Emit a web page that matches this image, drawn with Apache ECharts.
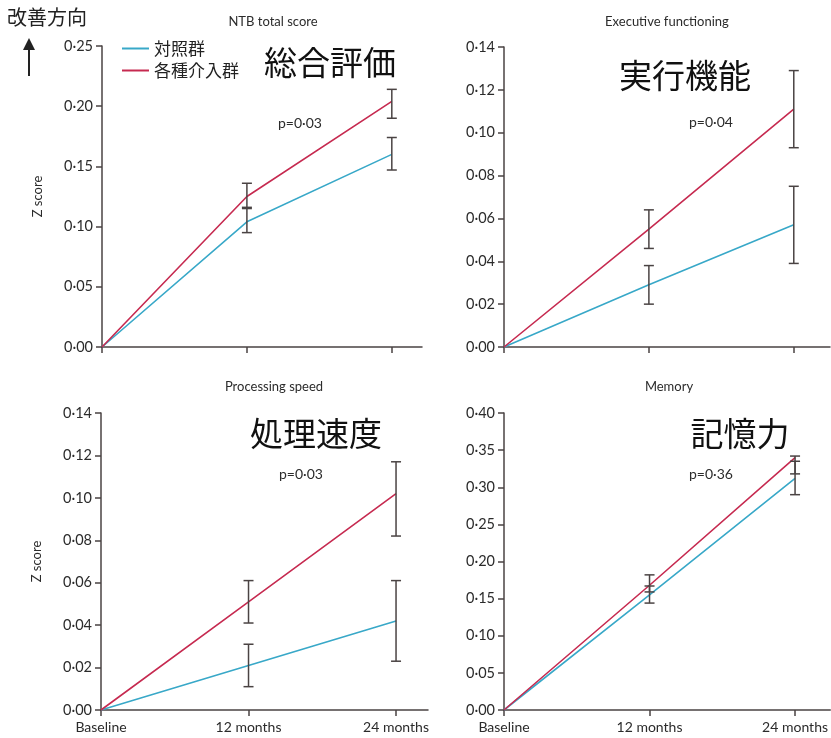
<!DOCTYPE html>
<html>
<head>
<meta charset="utf-8">
<script src="https://cdn.jsdelivr.net/npm/echarts@6/dist/echarts.min.js"></script>
<style>
  html, body { margin: 0; padding: 0; background: #fff; }
  #main { width: 831px; height: 738px; }
</style>
</head>
<body>
<div id="main"></div>
<script>
// x positions (months) and their labels
var months = [0, 12, 24];
var monthLabels = ['Baseline', '12 months', '24 months'];
var groupNames = ['対照群', '各種介入群'];
var panelTitles = ['NTB total score', 'Executive functioning', 'Processing speed', 'Memory'];
var panelLabelsJa = ['総合評価', '実行機能', '処理速度', '記憶力'];
var pValues = ['p=0·03', 'p=0·04', 'p=0·03', 'p=0·36'];

// NTB total score
var ntbControl = [0, 0.104, 0.160];
var ntbControlLow = [0.095, 0.147];
var ntbControlHigh = [0.116, 0.174];
var ntbInterv = [0, 0.125, 0.204];
var ntbIntervLow = [0.115, 0.190];
var ntbIntervHigh = [0.136, 0.214];

// Executive functioning
var execControl = [0, 0.029, 0.057];
var execControlLow = [0.020, 0.039];
var execControlHigh = [0.038, 0.075];
var execInterv = [0, 0.055, 0.111];
var execIntervLow = [0.046, 0.093];
var execIntervHigh = [0.064, 0.129];

// Processing speed
var procControl = [0, 0.021, 0.042];
var procControlLow = [0.011, 0.023];
var procControlHigh = [0.031, 0.061];
var procInterv = [0, 0.051, 0.102];
var procIntervLow = [0.041, 0.082];
var procIntervHigh = [0.061, 0.117];

// Memory
var memControl = [0, 0.155, 0.312];
var memControlLow = [0.144, 0.290];
var memControlHigh = [0.167, 0.335];
var memInterv = [0, 0.168, 0.340];
var memIntervLow = [0.159, 0.318];
var memIntervHigh = [0.182, 0.342];

var yMax = [0.25, 0.14, 0.14, 0.40];
var yStep = [0.05, 0.02, 0.02, 0.05];

var BLUE = '#38a8c8';
var RED = '#c62a50';
var AXIS = '#4a4343';
var TEXT = '#2b2b2b';
var LATIN = 'Lato, "Open Sans", sans-serif';
var CJK = '"Noto Sans CJK JP", "Noto Sans", sans-serif';

var panels = [
  { control: ntbControl, cLow: ntbControlLow, cHigh: ntbControlHigh, interv: ntbInterv, iLow: ntbIntervLow, iHigh: ntbIntervHigh },
  { control: execControl, cLow: execControlLow, cHigh: execControlHigh, interv: execInterv, iLow: execIntervLow, iHigh: execIntervHigh },
  { control: procControl, cLow: procControlLow, cHigh: procControlHigh, interv: procInterv, iLow: procIntervLow, iHigh: procIntervHigh },
  { control: memControl, cLow: memControlLow, cHigh: memControlHigh, interv: memInterv, iLow: memIntervLow, iHigh: memIntervHigh }
];

var grids = [
  { left: 102, top: 46, width: 320, height: 301 },
  { left: 504, top: 47, width: 326, height: 300 },
  { left: 101, top: 413, width: 327, height: 297 },
  { left: 504, top: 413, width: 327, height: 297 }
];
var xMax = [26.5, 27.0, 26.6, 26.9];

function fmt(v) {
  return v.toFixed(2).replace('.', '·');
}

function pairs(xs, ys) {
  return xs.map(function (x, i) { return [x, ys[i]]; });
}

function barData(low, high) {
  return months.slice(1).map(function (m, i) { return [m, low[i], high[i]]; });
}

function renderErrorBar(params, api) {
  var x = api.value(0);
  var lo = api.coord([x, api.value(1)]);
  var hi = api.coord([x, api.value(2)]);
  var w = 5;
  var st = { stroke: AXIS, lineWidth: 1.5 };
  return {
    type: 'group',
    children: [
      { type: 'line', shape: { x1: lo[0], y1: lo[1], x2: hi[0], y2: hi[1] }, style: st },
      { type: 'line', shape: { x1: lo[0] - w, y1: lo[1], x2: lo[0] + w, y2: lo[1] }, style: st },
      { type: 'line', shape: { x1: hi[0] - w, y1: hi[1], x2: hi[0] + w, y2: hi[1] }, style: st }
    ]
  };
}

var xAxes = [], yAxes = [], series = [];
panels.forEach(function (p, i) {
  xAxes.push({
    type: 'value', gridIndex: i, min: 0, max: xMax[i],
    splitLine: { show: false },
    axisLine: { lineStyle: { color: AXIS, width: 1.5 } },
    axisTick: { length: 6, lineStyle: { color: AXIS, width: 1.5 }, customValues: months },
    axisLabel: {
      show: i >= 2, // only the bottom row is labelled
      customValues: months, margin: 10, color: TEXT, fontFamily: LATIN, fontSize: 14,
      formatter: function (v) { return monthLabels[months.indexOf(v)] || ''; }
    }
  });
  yAxes.push({
    type: 'value', gridIndex: i, min: 0, max: yMax[i], interval: yStep[i],
    name: (i % 2 === 0) ? 'Z score' : '',
    nameLocation: 'middle', nameGap: 58, nameRotate: 90,
    nameTextStyle: { color: TEXT, fontFamily: LATIN, fontSize: 13 },
    splitLine: { show: false },
    axisLine: { show: true, lineStyle: { color: AXIS, width: 1.5 } },
    axisTick: { show: true, length: 6, lineStyle: { color: AXIS, width: 1.5 } },
    axisLabel: { margin: 9, color: TEXT, fontFamily: LATIN, fontSize: 14.5, formatter: fmt }
  });
  series.push({
    name: groupNames[0], type: 'line', xAxisIndex: i, yAxisIndex: i,
    data: pairs(months, p.control), symbol: 'none', color: BLUE,
    lineStyle: { width: 1.6, color: BLUE }, z: 3
  });
  series.push({
    name: groupNames[1], type: 'line', xAxisIndex: i, yAxisIndex: i,
    data: pairs(months, p.interv), symbol: 'none', color: RED,
    lineStyle: { width: 1.6, color: RED }, z: 3
  });
  series.push({
    type: 'custom', xAxisIndex: i, yAxisIndex: i, renderItem: renderErrorBar,
    data: barData(p.cLow, p.cHigh), encode: { x: 0, y: [1, 2] }, z: 4, silent: true
  });
  series.push({
    type: 'custom', xAxisIndex: i, yAxisIndex: i, renderItem: renderErrorBar,
    data: barData(p.iLow, p.iHigh), encode: { x: 0, y: [1, 2] }, z: 4, silent: true
  });
});

var titlePos = [[273, 15], [667, 15], [274, 380], [669, 380]];
var jaPos = [[330, 62], [685, 75], [316, 433], [740, 433]];
var pPos = [[300, 123], [711, 122], [301, 474], [711, 474]];

var graphics = [];
panels.forEach(function (p, i) {
  graphics.push({
    type: 'text', x: titlePos[i][0], y: titlePos[i][1],
    style: { text: panelTitles[i], fill: TEXT, font: '13px ' + LATIN, textAlign: 'center', textVerticalAlign: 'top' }
  });
  graphics.push({
    type: 'text', x: jaPos[i][0], y: jaPos[i][1],
    style: { text: panelLabelsJa[i], fill: '#111', font: '33px ' + CJK, textAlign: 'center', textVerticalAlign: 'middle' }
  });
  graphics.push({
    type: 'text', x: pPos[i][0], y: pPos[i][1],
    style: { text: pValues[i], fill: TEXT, font: '14px ' + LATIN, textAlign: 'center', textVerticalAlign: 'middle' }
  });
});
// direction-of-improvement marker
graphics.push({
  type: 'text', x: 7, y: 17,
  style: { text: '改善方向', fill: '#222', font: '20px ' + CJK, textAlign: 'left', textVerticalAlign: 'middle' }
});
graphics.push({
  type: 'line', shape: { x1: 29, y1: 46, x2: 29, y2: 76 },
  style: { stroke: '#222', lineWidth: 2 }
});
graphics.push({
  type: 'polygon', shape: { points: [[29, 38], [23, 50], [35, 50]] },
  style: { fill: '#222' }
});

var chart = echarts.init(document.getElementById('main'), null, { renderer: 'canvas' });
chart.setOption({
  backgroundColor: '#fff',
  animation: false,
  grid: grids,
  xAxis: xAxes,
  yAxis: yAxes,
  legend: {
    data: groupNames, orient: 'vertical', left: 117, top: 35,
    icon: 'rect', itemWidth: 27, itemHeight: 2, itemGap: 5,
    textStyle: { color: '#222', fontFamily: CJK, fontSize: 17 }
  },
  series: series,
  graphic: graphics
});
</script>
</body>
</html>
